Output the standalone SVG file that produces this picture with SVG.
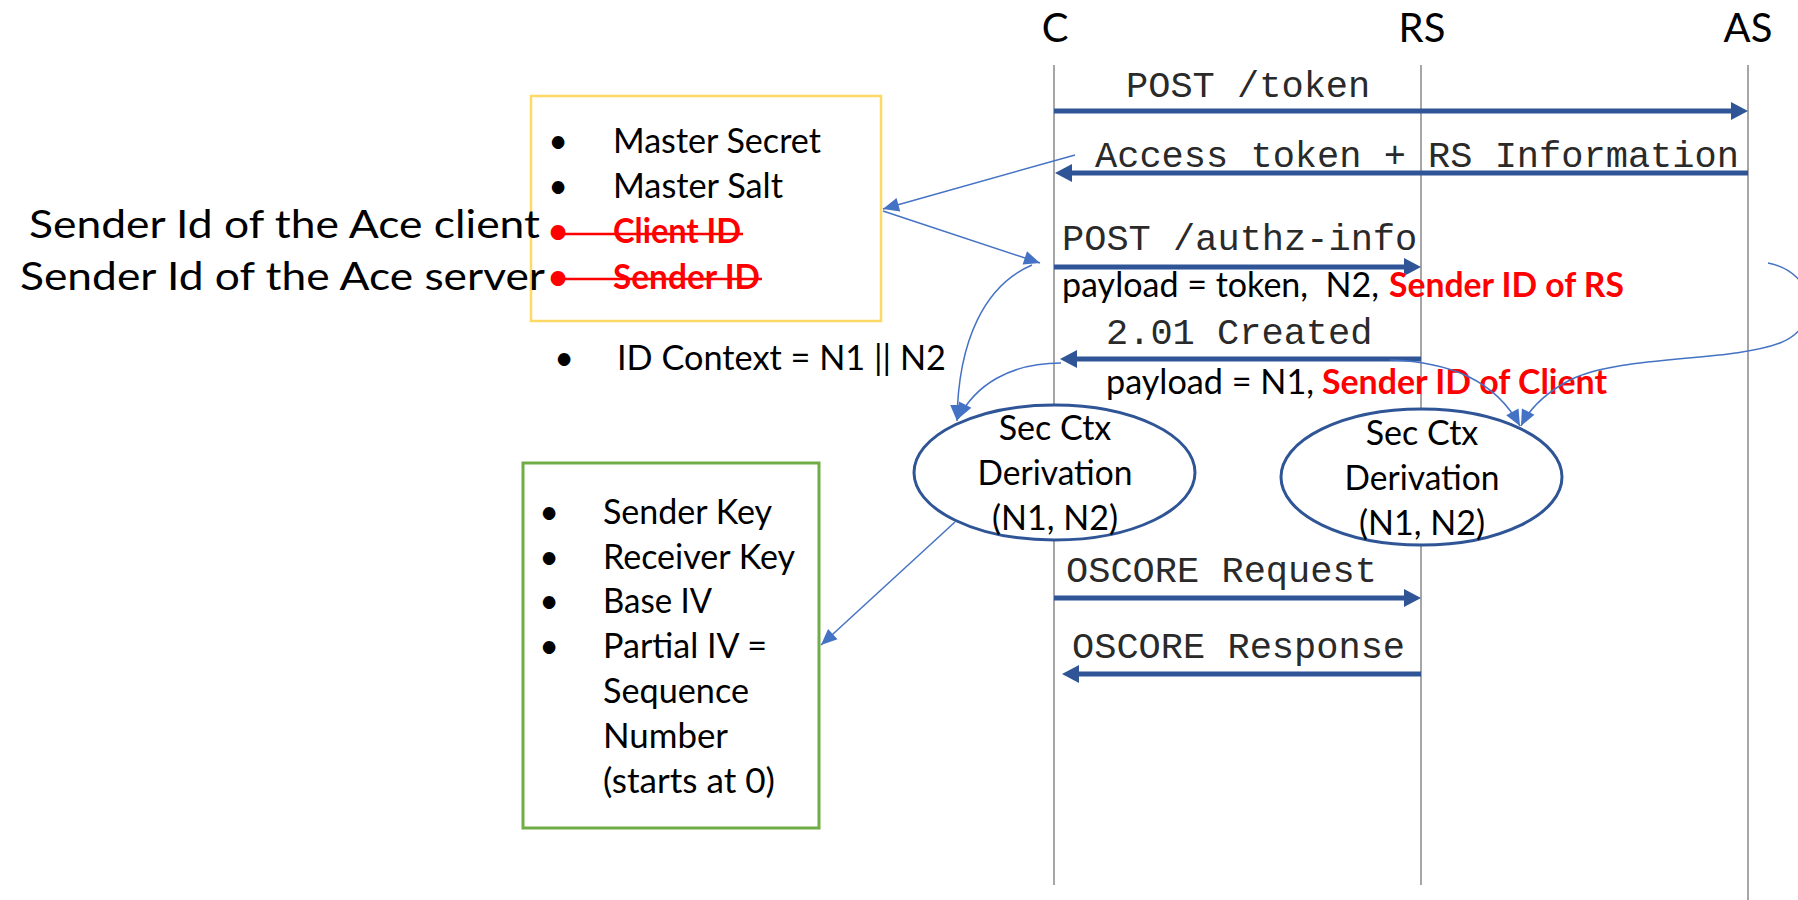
<svg xmlns="http://www.w3.org/2000/svg" width="1798" height="900" viewBox="0 0 1798 900">
<style>
.t{font-family:Lato,"Open Sans",sans-serif;font-size:34px;fill:#000}
.big{font-size:40px}
.side{font-size:39px}
.red{fill:#FF0000;font-weight:bold}
.mono{font-family:"Liberation Mono","Courier New",monospace;font-size:37px;fill:#2a2a2a}
.life{stroke:#A6A6A6;stroke-width:2;fill:none}
.msg{stroke:#2F5597;stroke-width:5;fill:none;marker-end:url(#ah)}
.thin{stroke:#4472C4;stroke-width:1.5;fill:none;marker-end:url(#th)}
.ell{fill:#fff;stroke:#2F5597;stroke-width:3}
.mid{text-anchor:middle}
</style>
<defs>
<marker id="ah" markerUnits="userSpaceOnUse" markerWidth="20" markerHeight="20" viewBox="0 -10 20 20" refX="0" refY="0" orient="auto" overflow="visible"><path d="M0,-9 L17,0 L0,9 z" fill="#2F5597"/></marker>
<marker id="th" markerUnits="userSpaceOnUse" markerWidth="20" markerHeight="16" viewBox="-17 -8 20 16" refX="0" refY="0" orient="auto" overflow="visible"><path d="M-16,-7 L0,0 L-16,7 z" fill="#4472C4"/></marker>
</defs>
<rect width="1798" height="900" fill="#fff"/>

<g id="C">
<line class="life" x1="1054" y1="65" x2="1054" y2="885"/>
<text class="t big mid" x="1055" y="42">C</text>
</g>
<g id="RS">
<line class="life" x1="1421" y1="65" x2="1421" y2="885"/>
<text class="t big mid" x="1422" y="42">RS</text>
</g>
<g id="AS">
<line class="life" x1="1748" y1="65" x2="1748" y2="900"/>
<text class="t big mid" x="1748" y="42">AS</text>
</g>

<g id="master-box">
<rect x="531" y="96" width="350" height="225" fill="#fff" stroke="#FFD966" stroke-width="2.5"/>
<text class="t mid" x="558" y="153">•</text>
<text class="t" x="613" y="153" textLength="208" lengthAdjust="spacingAndGlyphs">Master Secret</text>
<text class="t mid" x="558" y="198">•</text>
<text class="t" x="613" y="198" textLength="170" lengthAdjust="spacingAndGlyphs">Master Salt</text>
<text class="t red mid" x="558" y="243">•</text>
<text class="t red" x="613" y="243" textLength="128" lengthAdjust="spacingAndGlyphs">Client ID</text>
<line x1="552" y1="234" x2="743" y2="234" stroke="#FF0000" stroke-width="2.5"/>
<text class="t red mid" x="558" y="289">•</text>
<text class="t red" x="613" y="289" textLength="147" lengthAdjust="spacingAndGlyphs">Sender ID</text>
<line x1="552" y1="279" x2="762" y2="279" stroke="#FF0000" stroke-width="2.5"/>
</g>

<g id="side-labels">
<text class="t side" x="29" y="238" textLength="511" lengthAdjust="spacingAndGlyphs">Sender Id of the Ace client</text>
<text class="t side" x="20" y="290" textLength="525" lengthAdjust="spacingAndGlyphs">Sender Id of the Ace server</text>
</g>

<g id="id-context">
<text class="t mid" x="564" y="370">•</text>
<text class="t" x="617" y="370" textLength="329" lengthAdjust="spacingAndGlyphs">ID Context = N1 || N2</text>
</g>

<g id="derived-box">
<rect x="523" y="463" width="296" height="365" fill="#fff" stroke="#70AD47" stroke-width="3"/>
<text class="t mid" x="549" y="524">•</text>
<text class="t" x="603" y="524" textLength="169" lengthAdjust="spacingAndGlyphs">Sender Key</text>
<text class="t mid" x="549" y="569">•</text>
<text class="t" x="603" y="569" textLength="192" lengthAdjust="spacingAndGlyphs">Receiver Key</text>
<text class="t mid" x="549" y="613">•</text>
<text class="t" x="603" y="613" textLength="109" lengthAdjust="spacingAndGlyphs">Base IV</text>
<text class="t mid" x="549" y="658">•</text>
<text class="t" x="603" y="658" textLength="164" lengthAdjust="spacingAndGlyphs">Partial IV =</text>
<text class="t" x="603" y="703" textLength="146" lengthAdjust="spacingAndGlyphs">Sequence</text>
<text class="t" x="603" y="748" textLength="125" lengthAdjust="spacingAndGlyphs">Number</text>
<text class="t" x="603" y="793" textLength="172" lengthAdjust="spacingAndGlyphs">(starts at 0)</text>
</g>

<g id="derivation-C">
<ellipse class="ell" cx="1054.5" cy="472.5" rx="140.5" ry="67.5"/>
<text class="t mid" x="1055" y="440">Sec Ctx</text>
<text class="t mid" x="1055" y="485" textLength="155" lengthAdjust="spacingAndGlyphs">Derivation</text>
<text class="t mid" x="1055" y="530">(N1, N2)</text>
</g>
<g id="derivation-RS">
<ellipse class="ell" cx="1421.5" cy="477" rx="140.5" ry="68"/>
<text class="t mid" x="1422" y="445">Sec Ctx</text>
<text class="t mid" x="1422" y="490" textLength="155" lengthAdjust="spacingAndGlyphs">Derivation</text>
<text class="t mid" x="1422" y="535">(N1, N2)</text>
</g>

<g id="connectors">
<path class="msg" d="M1054,111 H1731"/>
<text class="mono" x="1126" y="97">POST /token</text>
<path class="msg" d="M1748,173 H1072"/>
<text class="mono" x="1095" y="167">Access token + RS Information</text>
<path class="msg" d="M1054,267 H1404"/>
<text class="mono" x="1062" y="250">POST /authz-info</text>
<text class="t" x="1062" y="297" xml:space="preserve" textLength="317" lengthAdjust="spacingAndGlyphs">payload = token,  N2,</text>
<text class="t red" x="1389" y="297" textLength="235" lengthAdjust="spacingAndGlyphs">Sender ID of RS</text>
<path class="msg" d="M1421,359 H1077"/>
<text class="mono" x="1106" y="344">2.01 Created</text>
<text class="t" x="1106" y="394" textLength="208" lengthAdjust="spacingAndGlyphs">payload = N1,</text>
<text class="t red" x="1322" y="394" textLength="285" lengthAdjust="spacingAndGlyphs">Sender ID of Client</text>
<path class="msg" d="M1054,598 H1404"/>
<text class="mono" x="1066" y="582">OSCORE Request</text>
<path class="msg" d="M1421,674 H1079"/>
<text class="mono" x="1072" y="658">OSCORE Response</text>

<path class="thin" d="M1075,155 L883,209"/>
<path class="thin" d="M883,211 L1040,263"/>
<path class="thin" d="M1032,265 C985,285 958,340 957,421"/>
<path class="thin" d="M1061,363 C1010,363 975,385 958,419"/>
<path class="thin" d="M1390,360 C1450,362 1495,380 1520,426"/>
<path class="thin" d="M1768,263 C1815,272 1825,325 1780,343 C1730,362 1620,355 1570,380 C1545,393 1530,408 1521,426"/>
<path class="thin" d="M955,522 L821,645"/>
</g>
</svg>
